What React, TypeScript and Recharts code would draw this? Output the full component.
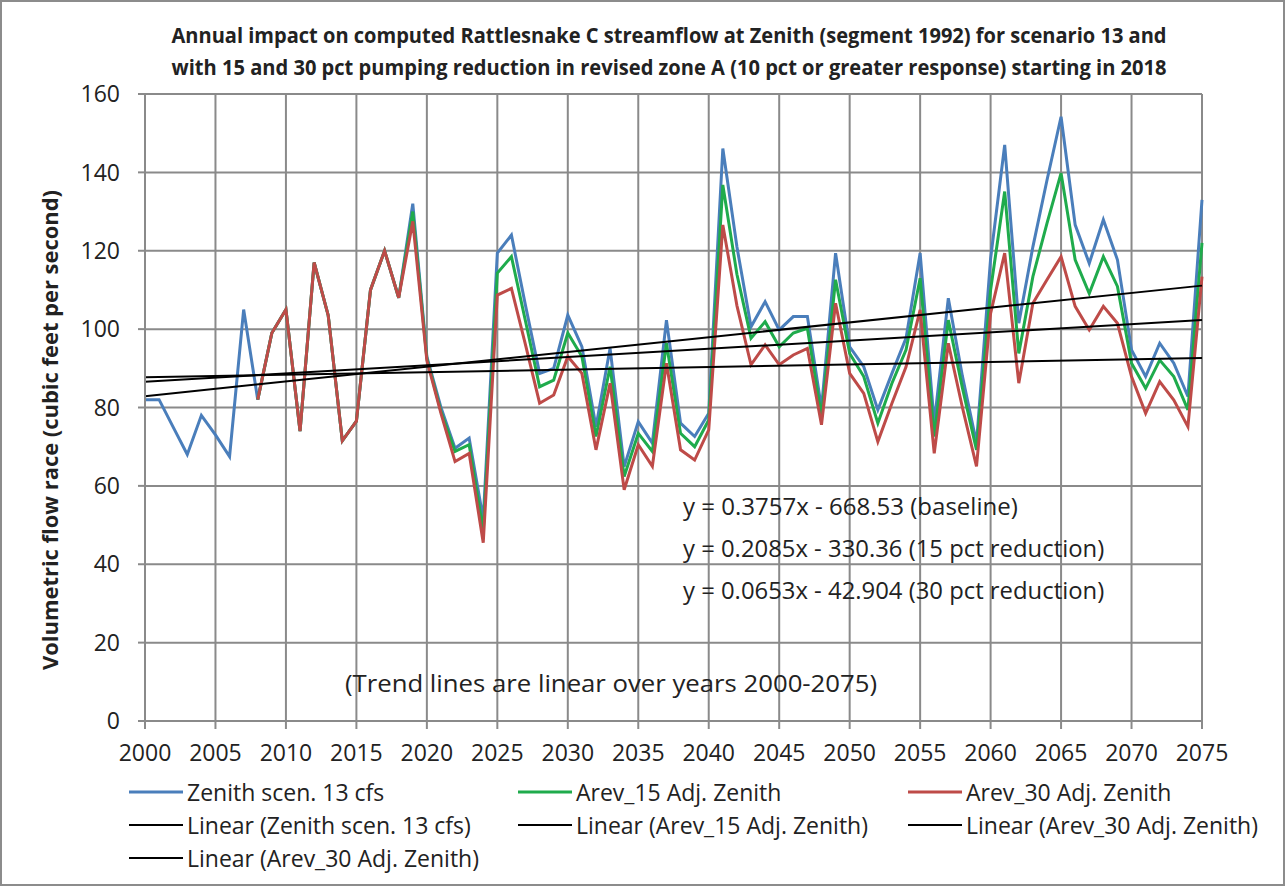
import React from "react";
import { LineChart, Line, XAxis, YAxis, CartesianGrid } from "recharts";

const years = [
  2000, 2001, 2002, 2003, 2004, 2005, 2006, 2007, 2008, 2009,
  2010, 2011, 2012, 2013, 2014, 2015, 2016, 2017, 2018, 2019,
  2020, 2021, 2022, 2023, 2024, 2025, 2026, 2027, 2028, 2029,
  2030, 2031, 2032, 2033, 2034, 2035, 2036, 2037, 2038, 2039,
  2040, 2041, 2042, 2043, 2044, 2045, 2046, 2047, 2048, 2049,
  2050, 2051, 2052, 2053, 2054, 2055, 2056, 2057, 2058, 2059,
  2060, 2061, 2062, 2063, 2064, 2065, 2066, 2067, 2068, 2069,
  2070, 2071, 2072, 2073, 2074, 2075,
];

// Zenith scen. 13 cfs (baseline)
const zenith = [
  82, 82, 75, 68, 78, 73, 67.5, 105, 82, 99,
  105, 74, 117, 103.5, 71.5, 76.5, 110, 120, 108, 132,
  93, 80, 69.6, 72.2, 51.5, 119.4, 124, 106, 88.7, 90,
  103.6, 95.5, 75.1, 95.1, 64.9, 76.4, 70.9, 102.3, 76, 72.6,
  78.5, 146.1, 121, 100.6, 107, 99.8, 103.2, 103.2, 79.8, 119.4,
  95.5, 90.4, 79.4, 88.7, 97.7, 119.4, 76, 107.9, 88, 70.9,
  118, 147, 101.5, 121, 138, 154.2, 126.6, 116.8, 127.9, 117.7,
  94.7, 87.9, 96.4, 91.3, 82.8, 133,
];

// Arev_15 Adj. Zenith (starts 2008)
const arev15 = [
  null, null, null, null, null, null, null, null, 82, 99,
  105, 74, 117, 103.5, 71.5, 76.5, 110, 120, 108, 130,
  92.5, 79, 68.8, 70.5, 48.5, 114.3, 118.5, 102, 85.3, 87,
  99, 93, 72.6, 90.4, 62.4, 73.4, 68.8, 96.4, 73.4, 70,
  76.8, 136.8, 114, 97.7, 101.9, 95.5, 99, 100.2, 77.7, 112.6,
  93.8, 87.9, 76, 86.2, 94.7, 113, 72.6, 102.3, 85, 69.2,
  110, 135.1, 93.8, 113.4, 127, 139.8, 117.7, 109.1, 118.5, 110.9,
  91.3, 84.9, 92.1, 87.9, 79.4, 122,
];

// Arev_30 Adj. Zenith (starts 2008)
const arev30 = [
  null, null, null, null, null, null, null, null, 82, 99,
  105, 74, 117, 103.5, 71.5, 76.5, 110, 120, 108, 127.5,
  92, 78.5, 66.2, 68.3, 45.5, 108.7, 110.4, 96, 81.1, 83.2,
  93, 88.7, 69.2, 86.2, 59, 70.5, 65, 91.3, 69.2, 66.6,
  74.3, 126.6, 106, 90.9, 96, 90.9, 93.4, 95.1, 75.6, 106.6,
  88.7, 83.6, 71.3, 81.1, 90.4, 104.9, 68.3, 96.4, 80, 65,
  104, 119.4, 86.2, 106.6, 112.6, 118.5, 105.8, 99.8, 105.8, 101.5,
  87.9, 78.5, 86.6, 81.9, 75.1, 113.4,
];

// linear trend end values at 2000 and 2075: baseline, 15 pct, 30 pct
const trendStart = [82.9, 86.6, 87.7];
const trendEnd = [111.1, 102.3, 92.6];

const majorTicks = [2000, 2005, 2010, 2015, 2020, 2025, 2030, 2035, 2040, 2045, 2050, 2055, 2060, 2065, 2070, 2075];
const yTicks = [0, 20, 40, 60, 80, 100, 120, 140, 160];

const titleLines = [
  "Annual impact on computed Rattlesnake C streamflow at Zenith (segment 1992) for scenario 13 and",
  "with 15 and 30 pct pumping reduction in revised zone A (10 pct or greater response) starting in 2018",
];
const equations = [
  "y = 0.3757x - 668.53 (baseline)",
  "y = 0.2085x - 330.36 (15 pct reduction)",
  "y = 0.0653x - 42.904 (30 pct reduction)",
];
const note = "(Trend lines are linear over years 2000-2075)";
const yLabel = "Volumetric flow race (cubic feet per second)";

const BLUE = "#4a7ebb";
const GREEN = "#1fab4c";
const RED = "#be4b48";
const BLACK = "#000000";
const GRID = "#8a8a8a";
const TEXT = "#222222";
const FONT = '"Open Sans", sans-serif';

const legendItems = [
  { label: "Zenith scen. 13 cfs", color: BLUE, col: 0, row: 0 },
  { label: "Arev_15 Adj. Zenith", color: GREEN, col: 1, row: 0 },
  { label: "Arev_30 Adj. Zenith", color: RED, col: 2, row: 0 },
  { label: "Linear (Zenith scen. 13 cfs)", color: BLACK, col: 0, row: 1 },
  { label: "Linear (Arev_15 Adj. Zenith)", color: BLACK, col: 1, row: 1 },
  { label: "Linear (Arev_30 Adj. Zenith)", color: BLACK, col: 2, row: 1 },
  { label: "Linear (Arev_30 Adj. Zenith)", color: BLACK, col: 0, row: 2 },
];
const legendCols = [129, 518, 908];
const legendRows = [792, 825, 858];

const last = years.length - 1;
const data = years.map((year, i) => ({
  year,
  zenith: zenith[i],
  arev15: arev15[i],
  arev30: arev30[i],
  trendBase: i === 0 ? trendStart[0] : i === last ? trendEnd[0] : null,
  trend15: i === 0 ? trendStart[1] : i === last ? trendEnd[1] : null,
  trend30: i === 0 ? trendStart[2] : i === last ? trendEnd[2] : null,
}));

const NoLabel = () => <g />;

export default function App() {
  return (
    <div style={{ position: "absolute", left: 0, top: 0, width: 1285, height: 886, background: "#fff", fontFamily: FONT }}>
      <LineChart width={1285} height={886} data={data} margin={{ top: 94, right: 83, bottom: 120, left: 85 }}>
        <CartesianGrid stroke={GRID} strokeWidth={2} />
        <XAxis
          xAxisId="minor"
          dataKey="year"
          type="number"
          domain={[2000, 2075]}
          ticks={years}
          interval={0}
          height={0}
          axisLine={false}
          tickLine={{ stroke: GRID, strokeWidth: 2 }}
          tickSize={5}
          tick={NoLabel}
        />
        <XAxis
          dataKey="year"
          type="number"
          domain={[2000, 2075]}
          ticks={majorTicks}
          interval={0}
          height={45}
          axisLine={{ stroke: GRID, strokeWidth: 2 }}
          tickLine={{ stroke: GRID, strokeWidth: 2 }}
          tickSize={8}
          tickMargin={16}
          tick={{ fill: TEXT, fontSize: 23, fontFamily: FONT }}
        />
        <YAxis
          type="number"
          domain={[0, 160]}
          ticks={yTicks}
          interval={0}
          width={60}
          axisLine={{ stroke: GRID, strokeWidth: 2 }}
          tickLine={{ stroke: GRID, strokeWidth: 2 }}
          tickSize={7}
          tickMargin={18}
          tick={{ fill: TEXT, fontSize: 23, fontFamily: FONT }}
        />
        <Line dataKey="zenith" stroke={BLUE} strokeWidth={3} dot={false} isAnimationActive={false} />
        <Line dataKey="arev15" stroke={GREEN} strokeWidth={3} dot={false} isAnimationActive={false} />
        <Line dataKey="arev30" stroke={RED} strokeWidth={3} dot={false} isAnimationActive={false} />
        <Line dataKey="trendBase" stroke={BLACK} strokeWidth={2} dot={false} connectNulls isAnimationActive={false} />
        <Line dataKey="trend15" stroke={BLACK} strokeWidth={2} dot={false} connectNulls isAnimationActive={false} />
        <Line dataKey="trend30" stroke={BLACK} strokeWidth={2} dot={false} connectNulls isAnimationActive={false} />
      </LineChart>
      <svg width={1285} height={886} style={{ position: "absolute", left: 0, top: 0, pointerEvents: "none" }}>
        <rect x={1} y={1} width={1283} height={884} fill="none" stroke="#8c8c8c" strokeWidth={2} />
        {titleLines.map((t, i) => (
          <text key={i} x={669} y={35 + i * 32} textAnchor="middle" dominantBaseline="central" fontSize={21} fontWeight={700} fill={TEXT} textLength={995} lengthAdjust="spacingAndGlyphs" fontFamily={FONT}>
            {t}
          </text>
        ))}
        <text
          transform="translate(50 430) rotate(-90)"
          textAnchor="middle"
          dominantBaseline="central"
          fontSize={21}
          fontWeight={700}
          fill={TEXT}
          textLength={480}
          lengthAdjust="spacingAndGlyphs"
          fontFamily={FONT}
        >
          {yLabel}
        </text>
        {equations.map((t, i) => (
          <text key={i} x={683} y={506 + i * 42} dominantBaseline="central" fontSize={23.5} fill={TEXT} textLength={t.length * 10.8} lengthAdjust="spacingAndGlyphs" fontFamily={FONT}>
            {t}
          </text>
        ))}
        <text x={345} y={682} dominantBaseline="central" fontSize={24.5} fill={TEXT} textLength={532} lengthAdjust="spacingAndGlyphs" fontFamily={FONT}>
          {note}
        </text>
        {legendItems.map((item, i) => (
          <g key={i}>
            <line x1={legendCols[item.col]} x2={legendCols[item.col] + 54} y1={legendRows[item.row]} y2={legendRows[item.row]} stroke={item.color} strokeWidth={item.color === BLACK ? 2 : 3} />
            <text x={legendCols[item.col] + 58} y={legendRows[item.row]} dominantBaseline="central" fontSize={23} fill={TEXT} fontFamily={FONT}>
              {item.label}
            </text>
          </g>
        ))}
      </svg>
    </div>
  );
}
